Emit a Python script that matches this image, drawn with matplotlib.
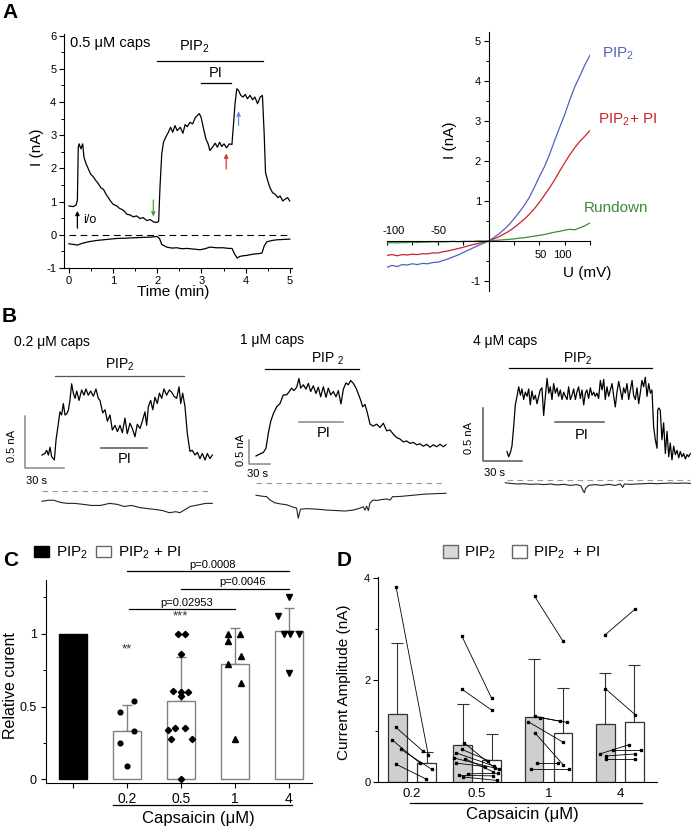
import matplotlib
matplotlib.use("Agg")
import matplotlib.pyplot as plt
from matplotlib.lines import Line2D
from matplotlib.patches import Patch
from matplotlib.ticker import MultipleLocator

plt.rcParams["font.family"] = ["Liberation Sans", "DejaVu Sans"]
plt.rcParams["mathtext.fontset"] = "custom"
plt.rcParams["mathtext.rm"] = "Liberation Sans"
plt.rcParams["mathtext.it"] = "Liberation Sans:italic"
plt.rcParams["mathtext.bf"] = "Liberation Sans:bold"
plt.rcParams["axes.linewidth"] = 0.8
plt.rcParams["axes.unicode_minus"] = False

# =============================================================================
# Data
# =============================================================================
# A left: current at +100 mV (upper) and -100 mV (lower), 0.5 uM capsaicin
a_t = [0, 0.1, 0.16, 0.19, 0.21, 0.23, 0.27, 0.31, 0.34, 0.39,
       0.44, 0.49, 0.55, 0.61, 0.66, 0.72, 0.78, 0.84, 0.89, 0.94,
       1.0, 1.08, 1.14, 1.19, 1.25, 1.31, 1.38, 1.46, 1.53, 1.61,
       1.68, 1.76, 1.84, 1.91, 1.99, 2.03, 2.06, 2.10, 2.14, 2.19,
       2.25, 2.30, 2.35, 2.40, 2.45, 2.52, 2.58, 2.63, 2.68, 2.74,
       2.80, 2.86, 2.91, 2.95, 2.99, 3.04, 3.10, 3.15, 3.19, 3.25,
       3.31, 3.36, 3.41, 3.46, 3.51, 3.57, 3.63, 3.69, 3.72, 3.76,
       3.80, 3.84, 3.89, 3.94, 3.99, 4.04, 4.10, 4.16, 4.21, 4.27,
       4.33, 4.38, 4.42, 4.45, 4.50, 4.55, 4.61, 4.67, 4.73, 4.78,
       4.84, 4.89, 4.95, 5.0]
a_i = [0.87, 0.85, 0.90, 1.04, 2.64, 2.74, 2.59, 2.74, 2.33, 2.13,
       1.98, 1.83, 1.75, 1.63, 1.55, 1.42, 1.37, 1.22, 1.12, 1.02,
       0.92, 0.87, 0.80, 0.77, 0.72, 0.62, 0.60, 0.54, 0.57, 0.49,
       0.52, 0.43, 0.46, 0.39, 0.37, 0.41, 1.42, 2.43, 2.79, 2.94,
       3.09, 3.24, 3.09, 3.29, 3.14, 3.24, 3.06, 3.32, 3.26, 3.39,
       3.34, 3.53, 3.60, 3.65, 3.55, 3.24, 2.89, 2.74, 2.54, 2.64,
       2.76, 2.64, 2.79, 2.66, 2.74, 2.62, 2.74, 2.72, 3.24, 3.95,
       4.40, 4.35, 4.20, 4.15, 4.23, 4.10, 4.20, 4.07, 4.15, 3.95,
       4.15, 4.20, 3.04, 1.88, 1.63, 1.42, 1.27, 1.22, 1.12, 1.17,
       1.02, 1.07, 1.12, 1.02]
a_low_t = [0, 0.1, 0.19, 0.29, 0.44, 0.63, 0.85, 1.08, 1.30, 1.46,
           1.65, 1.84, 1.99, 2.05, 2.10, 2.21, 2.33, 2.44, 2.56, 2.67,
           2.82, 2.97, 3.08, 3.19, 3.34, 3.49, 3.62, 3.69, 3.76, 3.81,
           3.87, 3.95, 4.03, 4.10, 4.18, 4.28, 4.37, 4.42, 4.48, 4.60,
           4.71, 4.85, 5.0]
a_low_i = [-0.27, -0.29, -0.31, -0.26, -0.21, -0.17, -0.14, -0.11, -0.10, -0.09,
           -0.08, -0.07, -0.05, -0.11, -0.29, -0.37, -0.40, -0.39, -0.42, -0.41,
           -0.43, -0.45, -0.42, -0.37, -0.39, -0.39, -0.41, -0.41, -0.60, -0.70,
           -0.65, -0.63, -0.62, -0.60, -0.58, -0.57, -0.55, -0.34, -0.21, -0.17,
           -0.15, -0.14, -0.13]

# A right: I-V relations
iv_mv = [-100, -95, -90, -85, -80, -75, -70, -65, -60, -55,
         -50, -45, -40, -35, -30, -25, -20, -15, -10, -5,
         0, 5, 10, 15, 20, 25, 30, 35, 40, 45,
         50, 55, 60, 65, 70, 75, 80, 85, 90, 95, 100]
iv_pip2 = [-0.66, -0.61, -0.64, -0.59, -0.60, -0.57, -0.59, -0.56, -0.57, -0.54,
           -0.53, -0.49, -0.45, -0.40, -0.35, -0.29, -0.23, -0.17, -0.11, -0.06,
           0.0, 0.08, 0.17, 0.28, 0.40, 0.55, 0.71, 0.88, 1.08, 1.33,
           1.60, 1.85, 2.15, 2.50, 2.83, 3.15, 3.52, 3.85, 4.12, 4.40, 4.64]
iv_pip2_pi = [-0.36, -0.34, -0.37, -0.34, -0.35, -0.33, -0.34, -0.32, -0.32, -0.30,
              -0.30, -0.27, -0.25, -0.22, -0.19, -0.16, -0.12, -0.09, -0.06, -0.03,
              0.0, 0.05, 0.10, 0.17, 0.24, 0.33, 0.43, 0.54, 0.66, 0.80,
              0.96, 1.14, 1.32, 1.52, 1.74, 1.95, 2.15, 2.33, 2.49, 2.62, 2.76]
iv_rundown = [-0.05, -0.04, -0.05, -0.04, -0.04, -0.03, -0.04, -0.03, -0.03, -0.02,
              -0.03, -0.02, -0.02, -0.01, -0.02, -0.01, -0.01, -0.01, 0.0, 0.0,
              0.0, 0.01, 0.02, 0.03, 0.04, 0.05, 0.07, 0.08, 0.10, 0.12,
              0.14, 0.16, 0.19, 0.22, 0.24, 0.27, 0.29, 0.28, 0.33, 0.38, 0.45]

# B: 0.2 uM caps (time s, current nA)
b1_t = [0, 2.3, 3.6, 4.9, 6.2, 7.4, 9.5, 10.8, 12.6, 13.8,
        15.1, 16.4, 17.7, 19, 20.3, 21.5, 22.8, 24.1, 25.4, 26.7,
        28.5, 30.5, 32.3, 33.8, 35.6, 37.4, 39.5, 41.5, 43.3, 44.6,
        46.7, 48.5, 50.3, 52.3, 54.1, 56.2, 58, 60, 61.8, 63.8,
        65.6, 67.7, 69.5, 71.5, 73.3, 75.4, 77.4, 79.2, 80.5, 81.8,
        83.6, 85.2, 86.9, 88.7, 90.3, 92.1, 93.8, 95.9, 97.9, 99.7,
        101.5, 103.6, 105.4, 106.7, 108.2, 110, 111.8, 113.8, 115.6, 117.7,
        119.5, 121.5, 123.3, 125.4, 127.2, 129.2, 131]
b1_i = [0.125, 0.14, 0.17, 0.125, 0.2, 0.11, 0.077, 0.27, 0.43, 0.54,
        0.51, 0.62, 0.51, 0.52, 0.557, 0.65, 0.81, 0.72, 0.67, 0.74,
        0.65, 0.75, 0.70, 0.76, 0.70, 0.74, 0.69, 0.76, 0.67, 0.65,
        0.53, 0.56, 0.45, 0.51, 0.365, 0.41, 0.35, 0.41, 0.34, 0.48,
        0.33, 0.43, 0.38, 0.30, 0.42, 0.38, 0.46, 0.54, 0.41, 0.59,
        0.65, 0.56, 0.68, 0.62, 0.72, 0.67, 0.76, 0.70, 0.75, 0.73,
        0.69, 0.67, 0.78, 0.62, 0.72, 0.59, 0.33, 0.16, 0.17, 0.125,
        0.15, 0.09, 0.14, 0.077, 0.14, 0.09, 0.125]
b1_low_t = [0, 5, 9, 14, 19, 25, 32, 38, 45, 52,
            58, 63, 69, 75, 81, 88, 93, 98, 103, 106,
            110, 114, 118, 122, 126, 131]
b1_low_i = [-0.32, -0.31, -0.31, -0.33, -0.34, -0.34, -0.35, -0.36, -0.36, -0.34,
            -0.35, -0.37, -0.36, -0.38, -0.39, -0.40, -0.41, -0.43, -0.42, -0.43,
            -0.40, -0.37, -0.36, -0.35, -0.34, -0.34]

# B: 1 uM caps
b2_t = [0, 5.7, 10.5, 14.3, 17.6, 20.9, 24.8, 29.5, 34.3, 39,
        43.8, 47.6, 50.9, 54.3, 58.1, 61.4, 63.8, 67.6, 71.4, 74.8,
        78.1, 81.9, 85.7, 89, 92.4, 96.2, 100, 103.3, 106.7, 110.5,
        114.3, 117.6, 121.4, 124.8, 128.6, 131.9, 135.2, 139, 142.9, 146.2,
        149.5, 152.4, 155.7, 159, 162.9, 167.6, 172.4, 177.1, 181.9, 186.7,
        191.4, 196.2, 201, 205.7, 210.5, 215.2, 220, 224.8, 229.5, 234.3,
        239, 243.8, 248.6, 253.3, 258.1, 262.9, 267.6, 271.4]
b2_i = [0.167, 0.21, 0.24, 0.33, 0.64, 0.88, 1.05, 1.19, 1.26, 1.44,
        1.44, 1.51, 1.58, 1.53, 1.60, 1.78, 1.58, 1.65, 1.56, 1.68,
        1.51, 1.63, 1.47, 1.60, 1.40, 1.61, 1.39, 1.58, 1.44, 1.51,
        1.40, 1.53, 1.25, 1.56, 1.69, 1.65, 1.74, 1.68, 1.58, 1.46,
        1.33, 1.19, 1.24, 1.07, 0.83, 0.79, 0.83, 0.76, 0.85, 0.69,
        0.71, 0.62, 0.55, 0.52, 0.46, 0.48, 0.43, 0.45, 0.40, 0.42,
        0.37, 0.41, 0.35, 0.40, 0.36, 0.41, 0.36, 0.40]
b2_low_t = [0, 8.1, 15.2, 20, 27.1, 34.3, 43.8, 53.3, 58.1, 59.5,
            60.5, 61.9, 63.8, 72.4, 86.7, 100.9, 115.2, 127.1, 139, 148.6,
            153.3, 155.7, 158.1, 160.5, 162.9, 167.6, 172.4, 179.5, 186.7, 191.4,
            195.2, 201, 210.5, 224.8, 239, 253.3, 271.4]
b2_low_i = [-0.65, -0.67, -0.68, -0.75, -0.81, -0.83, -0.85, -0.90, -0.92, -1.06,
            -1.13, -1.03, -0.94, -0.93, -0.94, -0.96, -0.97, -0.98, -0.96, -0.92,
            -0.89, -0.96, -0.88, -0.97, -0.81, -0.75, -0.76, -0.74, -0.73, -0.75,
            -0.68, -0.68, -0.67, -0.65, -0.63, -0.62, -0.61]

# B: 4 uM caps
b3_t = [0, 1.3, 2.6, 3.8, 5.1, 6.4, 7.7, 9.0, 10.3, 11.5,
        12.8, 14.1, 15.4, 16.7, 17.9, 19.2, 20.5, 21.8, 23.1, 24.4,
        25.6, 26.9, 28.2, 29.5, 30.8, 32.1, 33.3, 34.6, 35.9, 37.2,
        38.5, 39.7, 41.0, 42.3, 43.6, 44.9, 46.2, 47.4, 48.7, 50.0,
        51.3, 52.6, 53.8, 55.1, 56.4, 57.7, 59.0, 60.3, 61.5, 62.8,
        64.1, 65.4, 66.7, 67.9, 69.2, 70.5, 71.8, 73.1, 74.4, 75.6,
        76.9, 78.2, 79.5, 80.8, 82.1, 83.3, 84.6, 85.9, 87.2, 88.5,
        89.7, 91.0, 92.3, 93.6, 94.9, 96.2, 97.4, 98.7, 100.0, 101.3,
        102.6, 103.8, 105.1, 106.4, 107.7, 109.0, 110.3, 111.5, 112.8, 114.1,
        115.4, 115.9, 116.7, 117.9, 119.2, 120.5, 121.8, 123.1, 124.4, 125.6,
        126.9, 128.2, 129.5, 130.8, 132.1, 133.3, 134.6, 135.9, 137.2, 138.5,
        139.7, 141.0]
b3_i = [0.09, 0.04, 0.08, 0.14, 0.32, 0.53, 0.61, 0.70, 0.62, 0.68,
        0.58, 0.65, 0.61, 0.68, 0.53, 0.66, 0.58, 0.62, 0.54, 0.61,
        0.67, 0.69, 0.43, 0.61, 0.78, 0.64, 0.70, 0.58, 0.73, 0.64,
        0.69, 0.61, 0.67, 0.58, 0.65, 0.61, 0.58, 0.70, 0.58, 0.62,
        0.68, 0.58, 0.65, 0.70, 0.59, 0.67, 0.53, 0.64, 0.67, 0.59,
        0.69, 0.62, 0.65, 0.61, 0.64, 0.59, 0.76, 0.67, 0.77, 0.58,
        0.70, 0.61, 0.67, 0.73, 0.61, 0.51, 0.65, 0.75, 0.67, 0.58,
        0.69, 0.64, 0.73, 0.58, 0.67, 0.76, 0.62, 0.58, 0.69, 0.54,
        0.65, 0.76, 0.70, 0.79, 0.61, 0.73, 0.64, 0.67, 0.32, 0.20,
        0.12, 0.48, 0.50, 0.48, 0.20, 0.36, 0.07, 0.28, 0.04, 0.17,
        0.01, 0.14, 0.06, 0.10, 0.03, 0.09, 0.04, 0.07, 0.02, 0.06,
        0.04, 0.07]
b3_low_t = [-1.3, 2.6, 7.7, 12.8, 17.9, 23.1, 28.2, 33.3, 38.5, 43.6,
            48.7, 53.8, 56.9, 58.5, 59.5, 60.5, 62.8, 67.9, 73.1, 78.2,
            83.3, 87.2, 89.0, 90.3, 94.9, 100, 105.1, 110.3, 115.4, 120.5,
            125.6, 130.8, 135.9, 141]
b3_low_i = [-0.205, -0.211, -0.217, -0.214, -0.220, -0.217, -0.223, -0.217, -0.226, -0.220,
            -0.230, -0.223, -0.236, -0.280, -0.299, -0.258, -0.230, -0.223, -0.230, -0.220,
            -0.230, -0.217, -0.249, -0.217, -0.220, -0.217, -0.214, -0.211, -0.214, -0.211,
            -0.208, -0.211, -0.208, -0.211]

# C: relative current
c_groups = ["0.2", "0.5", "1", "4"]
c_ctrl = 1.0
c_mean = [0.33, 0.54, 0.79, 1.02]
c_sd = [0.18, 0.30, 0.25, 0.16]
c_pts_02 = [0.46, 0.54, 0.33, 0.25, 0.09]
c_pts_05 = [1.0, 1.0, 0.86, 0.61, 0.60, 0.60, 0.57, 0.34, 0.35, 0.35, 0.28, 0.28, 0.0]
c_pts_1 = [1.0, 1.0, 0.95, 0.85, 0.79, 0.66, 0.28]
c_pts_4 = [1.25, 1.12, 1.0, 1.0, 1.0, 0.73]
c_pvals = ["p=0.0008", "p=0.0046", "p=0.02953"]

# D: current amplitudes (nA)
d_groups = ["0.2", "0.5", "1", "4"]
d_mean_pip2 = [1.33, 0.72, 1.28, 1.13]
d_sd_pip2 = [1.40, 0.81, 1.13, 1.00]
d_mean_pi = [0.37, 0.43, 0.97, 1.17]
d_sd_pi = [0.22, 0.52, 0.87, 1.12]
d_cells_pip2 = [
    [3.83, 1.07, 0.83, 0.64, 0.35],
    [2.86, 1.82, 0.77, 0.64, 0.57, 0.47, 0.46, 0.37, 0.16, 0.13, 0.10],
    [3.64, 1.29, 1.26, 1.18, 0.97, 0.37, 0.26],
    [2.89, 1.83, 0.55, 0.63, 0.51, 0.46],
]
d_cells_pi = [
    [0.53, 0.61, 0.37, 0.25, 0.06],
    [1.64, 1.41, 0.27, 0.42, 0.31, 0.25, 0.20, 0.30, 0.17, 0.12, 0.03],
    [2.76, 1.19, 1.17, 0.78, 0.34, 0.37, 0.26],
    [3.39, 1.32, 0.73, 0.63, 0.55, 0.46],
]

# =============================================================================
# Layout helpers (pixel based)
# =============================================================================
W, H = 691, 831
fig = plt.figure(figsize=(W / 100, H / 100), dpi=100, facecolor="white")


def px_axes(l, t, r, b):
    return fig.add_axes([l / W, 1 - b / H, (r - l) / W, (b - t) / H])


def ptext(x, y, s, **kw):
    kw.setdefault("ha", "center")
    kw.setdefault("va", "center")
    fig.text(x / W, 1 - y / H, s, **kw)


def pline(x1, x2, y, **kw):
    fig.add_artist(Line2D([x1 / W, x2 / W], [1 - y / H, 1 - y / H],
                          transform=fig.transFigure, **kw))


def scaled(ax, rect, x0, sx, y0, sy):
    l, t, r, b = rect
    ax.set_xlim((l - x0) / sx, (r - x0) / sx)
    ax.set_ylim((y0 - b) / sy, (y0 - t) / sy)


BLUE, RED, GREEN = "#4f63b8", "#cc2229", "#3d8b37"

# panel letters
ptext(2, 12, "A", ha="left", fontsize=15, weight="bold")
ptext(2, 317, "B", ha="left", fontsize=15, weight="bold")
ptext(3, 561, "C", ha="left", fontsize=15, weight="bold")
ptext(337, 561, "D", ha="left", fontsize=15, weight="bold")

# =============================================================================
# A left
# =============================================================================
ax = px_axes(64, 34, 292, 268)
ax.plot(a_t, a_i, color="black", lw=0.9)
ax.plot(a_low_t, a_low_i, color="black", lw=0.9)
ax.plot([0, 5], [0, 0], color="black", lw=0.8, ls=(0, (6, 4)))
ax.set_xlim(-0.113, 5.05)
ax.set_ylim(-1, 6.05)
for s in ("top", "right"):
    ax.spines[s].set_visible(False)
ax.set_xticks(range(6))
ax.set_yticks(range(-1, 7))
ax.xaxis.set_minor_locator(MultipleLocator(0.5))
ax.yaxis.set_minor_locator(MultipleLocator(0.5))
ax.tick_params(which="major", labelsize=8, length=3.5, width=0.8, pad=2)
ax.tick_params(which="minor", length=2, width=0.7)
ptext(37, 147, "I (nA)", rotation=90, fontsize=11)
ptext(173, 292, "Time (min)", fontsize=11)

ax.text(0.02, 5.78, "0.5 μM caps", fontsize=10.5, ha="left", va="center")
ax.text(2.85, 5.66, "PIP$_2$", fontsize=10.5, ha="center", va="center")
ax.plot([1.99, 4.40], [5.24, 5.24], color="black", lw=0.9)
ax.text(3.32, 4.88, "PI", fontsize=10.5, ha="center", va="center")
ax.plot([2.99, 3.67], [4.58, 4.58], color="black", lw=0.9)
ax.text(0.31, 0.44, "i/o", fontsize=9, ha="left", va="center")


def arrow(x, y0, y1, c):
    ax.annotate("", xy=(x, y1), xytext=(x, y0),
                arrowprops=dict(arrowstyle="-|>", color=c, lw=0.9,
                                mutation_scale=6, shrinkA=0, shrinkB=0))


arrow(0.19, 0.2, 0.72, "black")
arrow(1.91, 1.05, 0.55, "#4da03c")
arrow(3.56, 1.98, 2.45, "#d9383a")
arrow(3.84, 3.30, 3.72, "#6f86d6")

# =============================================================================
# A right (I-V)
# =============================================================================
ax2 = px_axes(387, 32, 590, 291)
ax2.plot(iv_mv, iv_rundown, color=GREEN, lw=0.9)
ax2.plot(iv_mv, iv_pip2_pi, color=RED, lw=0.9)
ax2.plot(iv_mv, iv_pip2, color=BLUE, lw=0.9)
ax2.set_xlim(-100, 100)
ax2.set_ylim(-1.25, 5.22)
ax2.spines["left"].set_position(("data", 0))
ax2.spines["bottom"].set_position(("data", 0))
for s in ("top", "right"):
    ax2.spines[s].set_visible(False)
ax2.set_yticks([-1, 1, 2, 3, 4, 5])
ax2.yaxis.set_minor_locator(MultipleLocator(0.5))
ax2.set_xticks(range(-100, 101, 25))
ax2.tick_params(axis="x", labelbottom=False, length=3, width=0.8)
ax2.tick_params(axis="y", which="major", labelsize=8, length=3.5, width=0.8, pad=2)
ax2.tick_params(axis="y", which="minor", length=2, width=0.7)
for xv, yv, lab in [(-93.6, 0.25, "-100"), (-49, 0.25, "-50"),
                    (51, -0.35, "50"), (73, -0.35, "100")]:
    ax2.text(xv, yv, lab, fontsize=8, ha="center", va="center")
ptext(450, 140, "I (nA)", rotation=90, fontsize=11)
ptext(587, 273, "U (mV)", fontsize=11)
ptext(602, 54, "PIP$_2$", ha="left", fontsize=11, color=BLUE)
ptext(598, 120, "PIP$_2$+ PI", ha="left", fontsize=11, color=RED)
ptext(584, 208, "Rundown", ha="left", fontsize=11, color=GREEN)

# =============================================================================
# B traces
# =============================================================================
def trace_panel(rect, scale, tr_t, tr_i, lo_t, lo_i, dash_y, t_end,
                caps, caps_xy, pip_line, pip_y, pip_txt, pip_xy, pip_col,
                pi_line, pi_y, pi_xy, pi_col, bar_x, bar_col, nA_xy, s_xy):
    a = px_axes(*rect)
    scaled(a, rect, *scale)
    a.axis("off")
    a.plot(tr_t, tr_i, color="black", lw=0.9)
    a.plot(lo_t, lo_i, color="#222222", lw=0.8)
    a.plot([0, t_end], [dash_y, dash_y], color="#999999", lw=0.8, ls=(0, (5, 4)))
    a.text(*caps_xy, caps, fontsize=10, ha="left", va="center")
    a.plot(pip_line, [pip_y, pip_y], color=pip_col, lw=0.9)
    a.text(*pip_xy, pip_txt, fontsize=10, ha="center", va="bottom")
    a.plot(pi_line, [pi_y, pi_y], color=pi_col, lw=1.1)
    a.text(*pi_xy, "PI", fontsize=10.5, ha="center", va="center")
    a.plot([bar_x, bar_x, bar_x + 30], [0.5, 0, 0], color=bar_col, lw=1.1)
    a.text(*nA_xy, "0.5 nA", fontsize=8, rotation=90, ha="center", va="center")
    a.text(*s_xy, "30 s", fontsize=8, ha="center", va="center")
    return a


trace_panel((0, 330, 230, 525), (42, 1.3, 468, 104), b1_t, b1_i, b1_low_t, b1_low_i,
            -0.221, 131, "0.2 μM caps", (-21.5, 1.21),
            [10, 109], 0.885, "PIP$_2$", (60, 0.91), "#555555",
            [45.4, 80.8], 0.192, (63.8, 0.09), "#555555",
            -13.1, "#888888", (-22.7, 0.21), (-4.2, -0.125))
trace_panel((230, 330, 460, 525), (256, 0.7, 464, 48), b2_t, b2_i, b2_low_t, b2_low_i,
            -0.396, 271, "1 μM caps", (-22.9, 2.58),
            [12.9, 147], 1.98, "PIP $_2$", (103, 2.03), "black",
            [61.4, 124.3], 0.875, (97, 0.65), "#888888",
            -10, "#888888", (-21.4, 0.29), (2.1, -0.2))
trace_panel((460, 330, 691, 525), (507, 1.3, 461, 106), b3_t, b3_i, b3_low_t, b3_low_i,
            -0.18, 141, "4 μM caps", (-26, 1.13),
            [1.5, 111.5], 0.877, "PIP$_2$", (54.2, 0.89), "black",
            [37, 74.6], 0.368, (57.7, 0.245), "#555555",
            -18.5, "#555555", (-29.2, 0.22), (-10, -0.11))

# =============================================================================
# C
# =============================================================================
axc = px_axes(46, 580, 312, 783)
axc.set_xlim(-0.5, 4.43)
axc.set_ylim(-0.025, 1.37)
cx = [1, 2, 3, 4]
axc.bar(0, c_ctrl, width=0.52, color="black", edgecolor="black", zorder=2)
axc.bar(cx, c_mean, width=0.52, color="white", edgecolor="#808080", lw=1.0, zorder=2)
axc.errorbar(cx, c_mean, yerr=[[0] * 4, c_sd], fmt="none", ecolor="#808080",
             elinewidth=1.0, capsize=3.6, capthick=1.0, zorder=1.5)
c_jit = [
    [-0.13, 0.13, 0.13, -0.13, 0.0],
    [-0.06, 0.08, 0.0, -0.14, 0.0, 0.14, 0.0, -0.23, -0.1, 0.07, -0.19, 0.2, 0.0],
    [-0.12, 0.09, -0.12, 0.12, -0.12, 0.12, 0.0],
    [0.0, -0.2, -0.09, 0.03, 0.19, 0.0],
]
for x, pts, jit, mk, ms in zip(cx, [c_pts_02, c_pts_05, c_pts_1, c_pts_4], c_jit,
                               ["o", "D", "^", "v"], [3.4, 3.2, 4.2, 4.2]):
    axc.plot([x + j for j in jit], pts, ls="none", marker=mk, ms=ms,
             color="black", zorder=3)
axc.text(1, 0.89, "**", fontsize=9.5, ha="center", va="center", color="#333333")
axc.text(2, 1.12, "***", fontsize=9.5, ha="center", va="center", color="#333333")
for (x1, x2), yl, xt, lab in zip([(1, 4), (2, 4), (1.04, 3.0)], [1.43, 1.31, 1.17],
                                 [2.59, 3.15, 2.11], c_pvals):
    axc.plot([x1, x2], [yl, yl], color="black", lw=0.9, clip_on=False)
    axc.text(xt, yl + 0.01, lab, fontsize=8, ha="center", va="bottom")
for s in ("top", "right"):
    axc.spines[s].set_visible(False)
axc.set_xticks([0] + cx)
axc.set_xticklabels([""] + c_groups, fontsize=10)
axc.set_yticks([0, 0.5, 1])
axc.set_yticklabels(["0", "0.5", "1"], fontsize=9)
axc.yaxis.set_minor_locator(MultipleLocator(0.25))
axc.tick_params(which="major", length=3.5, width=0.8, pad=3)
axc.tick_params(which="minor", length=2, width=0.7)
ptext(11, 686, "Relative curent", rotation=90, fontsize=11.5)
pline(113, 292, 805, color="black", lw=0.9)
ptext(198, 819, "Capsaicin (μM)", fontsize=12)
fig.legend(handles=[Patch(facecolor="black", edgecolor="black"),
                    Patch(facecolor="white", edgecolor="#666666")],
           labels=["PIP$_2$", "PIP$_2$ + PI"], loc="center left",
           bbox_to_anchor=(34 / W, 1 - 553 / H), frameon=False, ncol=2,
           fontsize=11, handlelength=1.0, handleheight=0.8, handletextpad=0.45,
           columnspacing=0.5, borderpad=0, borderaxespad=0)

# =============================================================================
# D
# =============================================================================
axd = px_axes(378, 577, 657, 782)
axd.set_xlim(-0.49, 3.535)
axd.set_ylim(0, 4.02)
gpos = [0, 0.94, 1.97, 3.0]
off, bw = 0.21, 0.27
xg = [g - off for g in gpos]
xw = [g + off for g in gpos]
axd.bar(xg, d_mean_pip2, width=bw, color="#cfcfcf", edgecolor="#333333", lw=0.9, zorder=2)
axd.bar(xw, d_mean_pi, width=bw, color="white", edgecolor="#333333", lw=0.9, zorder=2)
axd.errorbar(xg, d_mean_pip2, yerr=[[0] * 4, d_sd_pip2], fmt="none", ecolor="#333333",
             elinewidth=0.8, capsize=4, capthick=0.8, zorder=1.5)
axd.errorbar(xw, d_mean_pi, yerr=[[0] * 4, d_sd_pi], fmt="none", ecolor="#333333",
             elinewidth=0.8, capsize=4, capthick=0.8, zorder=1.5)
d_dx_pip2 = [
    [-0.23, -0.23, -0.29, -0.16, -0.23],
    [-0.22, -0.22, -0.19, -0.22, -0.30, -0.33, -0.18, -0.30, -0.13, -0.26, -0.21],
    [-0.20, -0.20, -0.12, -0.29, -0.20, -0.16, -0.25],
    [-0.21, -0.21, -0.29, -0.10, -0.20, -0.20],
]
d_dx_pi = [
    [0.235, 0.155, 0.115, 0.285, 0.20],
    [0.21, 0.21, 0.26, 0.16, 0.25, 0.32, 0.23, 0.12, 0.30, 0.23, 0.29],
    [0.21, 0.17, 0.27, 0.21, 0.21, 0.13, 0.30],
    [0.22, 0.22, 0.13, 0.30, 0.22, 0.22],
]
for g, yp, yq, dp, dq in zip(gpos, d_cells_pip2, d_cells_pi, d_dx_pip2, d_dx_pi):
    for y1, y2, d1, d2 in zip(yp, yq, dp, dq):
        axd.plot([g + d1, g + d2], [y1, y2], color="black", lw=0.6,
                 marker="s", ms=1.7, zorder=3)
for s in ("top", "right"):
    axd.spines[s].set_visible(False)
axd.set_xticks(gpos)
axd.set_xticklabels(d_groups, fontsize=9.5)
axd.tick_params(axis="x", length=0, pad=4)
axd.set_yticks([0, 2, 4])
axd.yaxis.set_minor_locator(MultipleLocator(1))
axd.tick_params(axis="y", which="major", labelsize=8, length=3.5, width=0.8, pad=2)
axd.tick_params(axis="y", which="minor", length=2.5, width=0.7)
ptext(344, 682, "Current Amplitude (nA)", rotation=90, fontsize=11)
pline(410, 642, 803, color="black", lw=0.9)
ptext(522, 815, "Capsaicin (μM)", fontsize=12)
fig.legend(handles=[Patch(facecolor="#d9d9d9", edgecolor="#666666"),
                    Patch(facecolor="white", edgecolor="#666666")],
           labels=["PIP$_2$", "PIP$_2$  + PI"], loc="center left",
           bbox_to_anchor=(443 / W, 1 - 553 / H), frameon=False, ncol=2,
           fontsize=11, handlelength=1.0, handleheight=0.9, handletextpad=0.4,
           columnspacing=1.0, borderpad=0, borderaxespad=0)

fig.savefig("out.png", dpi=100, facecolor="white")
